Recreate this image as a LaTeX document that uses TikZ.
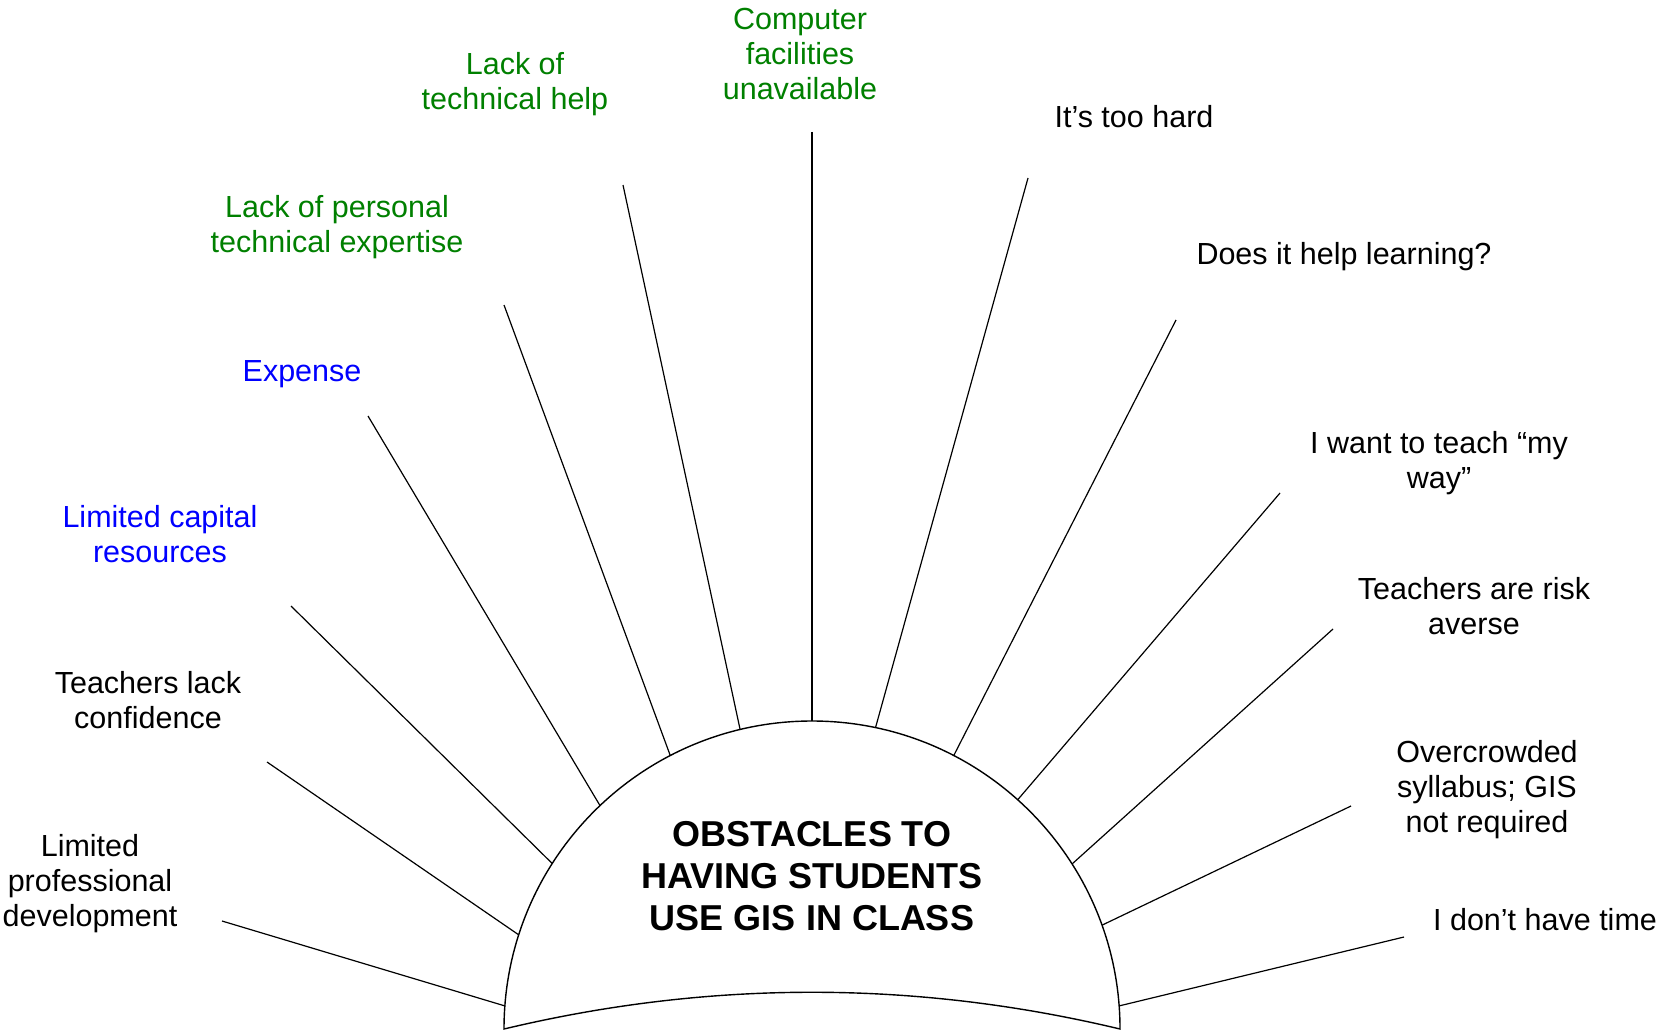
\documentclass[tikz,border=0pt]{standalone}
\usepackage{fontspec}
\setmainfont{Liberation Sans}
\usetikzlibrary{calc}
\definecolor{lblgreen}{RGB}{0,128,0}
\definecolor{lblblue}{RGB}{0,0,255}
\tikzset{
  lbl/.style={align=center, inner sep=0pt, yshift=-1.6pt, font=\fontsize{15.25}{17.5}\selectfont},
  greenlbl/.style={lbl, text=lblgreen},
  bluelbl/.style={lbl, text=lblblue},
  spoke/.style={draw=black, line width=0.6pt},
  domeline/.style={draw=black, line width=0.7pt, fill=white},
  titlelbl/.style={align=center, inner sep=0pt, yshift=-1pt, font=\fontsize{18}{21}\selectfont\bfseries}
}
\begin{document}
\begin{tikzpicture}[x=0.5pt, y=-0.5pt]
\useasboundingbox (0,0) rectangle (1663,1032);
\fill[white] (0,0) rectangle (1663,1032);

% dome
\coordinate (c) at (812,1029);
\coordinate (bl) at (504,1029);
\coordinate (br) at (1120,1029);
\path[domeline] (bl) arc[start angle=180, end angle=0, radius=154pt]
  .. controls (915,980) and (709,980) .. (bl) -- cycle;

% dome attachment points
\foreach \n/\a in {d1/175.7, d2/162.2, d3/147.5, d4/133.5, d5/117.4, d6/103.5, d7/90,
                   d8/78.1, d9/62.6, d10/48.1, d11/32.4, d12/19.7, d13/4.3}
  {\coordinate (\n) at ($(c)+(\a:154pt)$);}

% outer ends
\coordinate (o1) at (222,921);
\coordinate (o2) at (267,762);
\coordinate (o3) at (291,606);
\coordinate (o4) at (368,416);
\coordinate (o5) at (504,305);
\coordinate (o6) at (623,185);
\coordinate (o7) at (812,132);
\coordinate (o8) at (1028,178);
\coordinate (o9) at (1176,320);
\coordinate (o10) at (1280,493);
\coordinate (o11) at (1333,629);
\coordinate (o12) at (1351,806);
\coordinate (o13) at (1404,937);

\foreach \i in {1,...,13} {\draw[spoke] (o\i) -- (d\i);}

% title
\node[titlelbl] (title) at (812,874) {OBSTACLES TO\\HAVING STUDENTS\\USE GIS IN CLASS};

% labels
\node[lbl] (l1) at (90,880) {Limited\\professional\\development};
\node[lbl] (l2) at (148,697) {Teachers lack\\confidence};
\node[bluelbl] (l3) at (160,531) {Limited capital\\resources};
\node[bluelbl] (l4) at (302,371) {Expense};
\node[greenlbl] (l5) at (337,224) {Lack of personal\\technical expertise};
\node[greenlbl] (l6) at (515,81) {Lack of\\technical help};
\node[greenlbl] (l7) at (800,51) {Computer\\facilities\\unavailable};
\node[lbl] (l8) at (1134,113) {It’s too hard};
\node[lbl] (l9) at (1344,253) {Does it help learning?};
\node[lbl] (l10) at (1439,460) {I want to teach “my\\way”};
\node[lbl] (l11) at (1474,603) {Teachers are risk\\averse};
\node[lbl] (l12) at (1487,786) {Overcrowded\\syllabus; GIS\\not required};
\node[lbl] (l13) at (1545,916) {I don’t have time};
\end{tikzpicture}
\end{document}
